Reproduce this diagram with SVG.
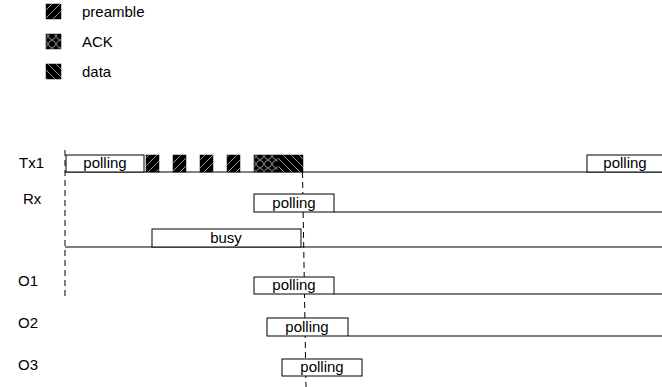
<svg xmlns="http://www.w3.org/2000/svg" width="662" height="387" viewBox="0 0 662 387">
<style>
text{font-family:"Liberation Sans",Arial,sans-serif;font-size:15px;fill:#000}
.box{fill:#fff;stroke:#000;stroke-width:1}
.ln{stroke:#000;stroke-width:1.2;fill:none}
.dash{stroke:#000;stroke-width:1;stroke-dasharray:6 4;fill:none}
.pre{fill:url(#pPre);stroke:#000;stroke-width:0.5}
.ack{fill:url(#pAck);stroke:#000;stroke-width:0.5}
.dat{fill:url(#pDat);stroke:#000;stroke-width:0.5}
</style>
<defs>
<pattern id="pPre" patternUnits="userSpaceOnUse" width="8" height="8">
<rect width="8" height="8" fill="#000"/>
<path d="M-1,9 L9,-1" stroke="#aaa" stroke-width="0.9"/>
</pattern>
<pattern id="pDat" patternUnits="userSpaceOnUse" width="8" height="8">
<rect width="8" height="8" fill="#000"/>
<path d="M-1,-1 L9,9" stroke="#aaa" stroke-width="0.9"/>
</pattern>
<pattern id="pAck" patternUnits="userSpaceOnUse" width="8" height="8">
<rect width="8" height="8" fill="#000"/>
<circle cx="4" cy="4" r="3.5" fill="none" stroke="#aaa" stroke-width="0.8"/>
</pattern>
</defs>
<g id="legend">
<g id="legend-preamble"><rect class="pre" x="46" y="4" width="15" height="15"/><text x="82" y="17">preamble</text></g>
<g id="legend-ack"><rect class="ack" x="46" y="34" width="15" height="15"/><text x="82" y="47">ACK</text></g>
<g id="legend-data"><rect class="dat" x="46" y="64" width="15" height="15"/><text x="82" y="77">data</text></g>
</g>
<g id="labels">
<text x="19" y="168">Tx1</text>
<text x="23" y="204">Rx</text>
<text x="18" y="286">O1</text>
<text x="18" y="328">O2</text>
<text x="18" y="370">O3</text>
</g>
<g id="connectors">
<line class="ln" x1="65" y1="172" x2="662" y2="172"/>
<line class="ln" x1="334" y1="212" x2="662" y2="212"/>
<line class="ln" x1="65" y1="247" x2="662" y2="247"/>
<line class="ln" x1="334" y1="294" x2="662" y2="294"/>
<line class="ln" x1="348" y1="336" x2="662" y2="336"/>
<line class="dash" x1="65" y1="150" x2="65" y2="300"/>
<line class="dash" x1="302.5" y1="172" x2="306" y2="387"/>
</g>
<g id="tx1">
<rect class="box" x="66" y="155" width="78" height="17"/>
<text x="105" y="168" text-anchor="middle">polling</text>
<rect class="pre" x="146" y="155" width="13" height="17"/>
<rect class="pre" x="173" y="155" width="13" height="17"/>
<rect class="pre" x="200" y="155" width="13" height="17"/>
<rect class="pre" x="227" y="155" width="13" height="17"/>
<rect class="ack" x="254" y="155" width="24" height="17"/>
<rect class="dat" x="278" y="155" width="25" height="17"/>
<rect class="box" x="587" y="155" width="76" height="17"/>
<text x="625" y="168" text-anchor="middle">polling</text>
</g>
<g id="rx">
<rect class="box" x="254" y="194" width="80" height="18"/>
<text x="294" y="208" text-anchor="middle">polling</text>
</g>
<g id="busy">
<rect class="box" x="152" y="229" width="149" height="18"/>
<text x="226" y="243" text-anchor="middle">busy</text>
</g>
<g id="o1">
<rect class="box" x="254" y="277" width="80" height="17"/>
<text x="294" y="290" text-anchor="middle">polling</text>
</g>
<g id="o2">
<rect class="box" x="267" y="318" width="81" height="18"/>
<text x="307" y="332" text-anchor="middle">polling</text>
</g>
<g id="o3">
<rect class="box" x="282" y="359" width="80" height="17"/>
<text x="322" y="372" text-anchor="middle">polling</text>
</g>
</svg>
